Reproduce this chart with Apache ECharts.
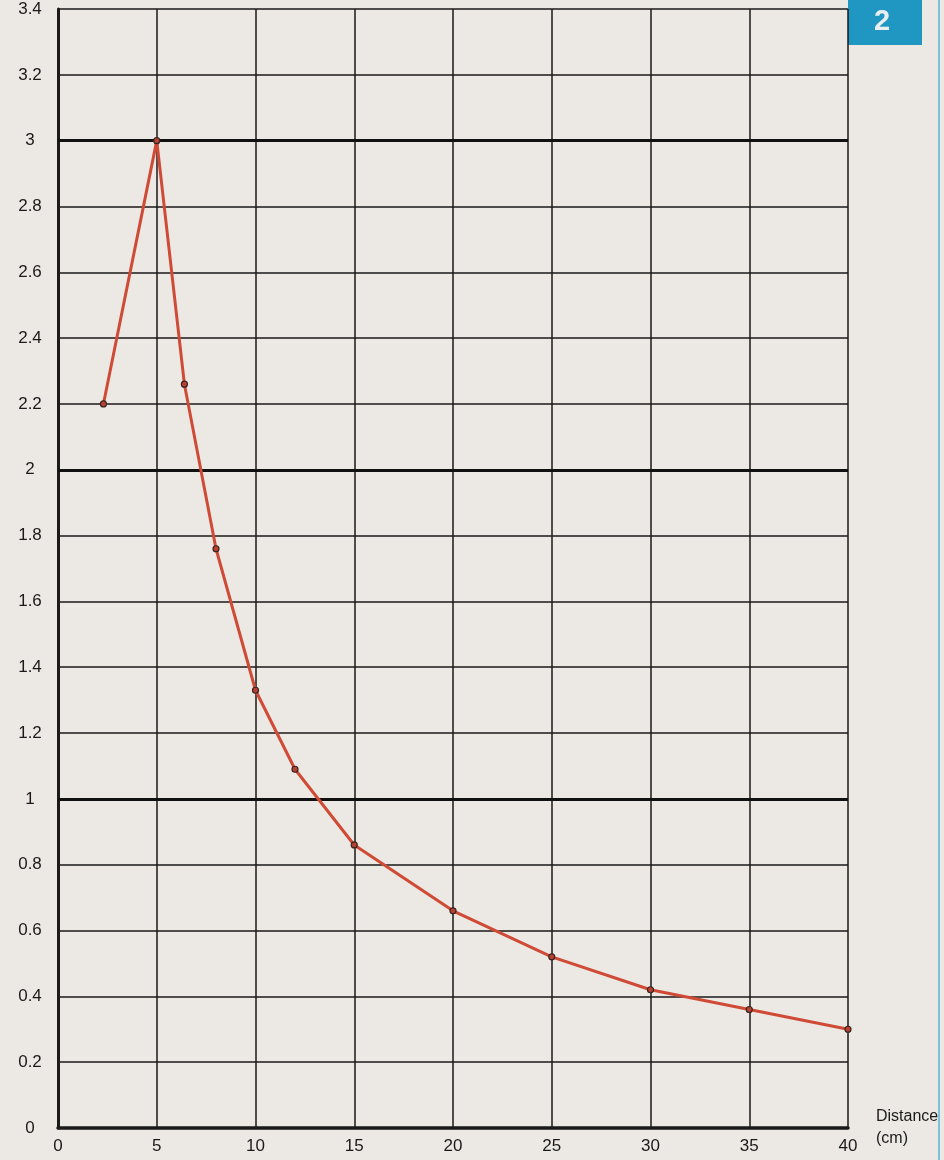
<!DOCTYPE html>
<html>
<head>
<meta charset="utf-8">
<script src="https://cdn.jsdelivr.net/npm/echarts@6/dist/echarts.min.js"></script>
<style>
  html, body { margin: 0; padding: 0; background: #ece8e4; }
  #chart { width: 944px; height: 1160px; }
</style>
</head>
<body>
<div id="chart"></div>
<script>
const distances = [2.3, 5, 6.4, 8, 10, 12, 15, 20, 25, 30, 35, 40]
const values = [2.2, 3.0, 2.26, 1.76, 1.33, 1.09, 0.86, 0.66, 0.52, 0.42, 0.36, 0.30]

const xTicks = ['0', '5', '10', '15', '20', '25', '30', '35', '40']
const yTicks = ['0', '0.2', '0.4', '0.6', '0.8', '1', '1.2', '1.4', '1.6', '1.8', '2',
  '2.2', '2.4', '2.6', '2.8', '3', '3.2', '3.4']
const boldLevels = [1, 2, 3]
const xName = 'Distance\n(cm)'
const badgeText = '2'

const ink = '#1a1a1a'
const font = "'Liberation Sans', Arial, sans-serif"

const chart = echarts.init(document.getElementById('chart'), null, { renderer: 'canvas' })

chart.setOption({
  backgroundColor: '#ece8e4',
  animation: false,
  grid: { left: 58, right: 96, top: 9, bottom: 31 },
  xAxis: {
    type: 'value', min: 0, max: 40, interval: 5,
    name: xName, nameLocation: 'end', nameGap: 28,
    nameTextStyle: {
      color: ink, fontSize: 16, fontFamily: font, align: 'left',
      lineHeight: 22, padding: [20, 0, 0, 0]
    },
    axisLine: { lineStyle: { color: ink, width: 3.5 } },
    axisTick: { show: false },
    axisLabel: {
      color: ink, fontSize: 17, fontFamily: font, margin: 10,
      formatter: (v, i) => xTicks[i]
    },
    splitLine: { show: true, lineStyle: { color: ink, width: 1.5 } }
  },
  yAxis: {
    type: 'value', min: 0, max: 3.4, interval: 0.2,
    axisLine: { show: true, lineStyle: { color: ink, width: 3 } },
    axisTick: { show: false },
    axisLabel: {
      color: ink, fontSize: 17, fontFamily: font, margin: 28, align: 'center',
      formatter: (v, i) => yTicks[i]
    },
    splitLine: { lineStyle: { color: ink, width: 1.5 } }
  },
  series: [
    {
      type: 'line',
      data: distances.map((d, i) => [d, values[i]]),
      symbol: 'circle', symbolSize: 6,
      z: 3,
      lineStyle: { color: '#cf4b36', width: 3 },
      itemStyle: { color: '#b84232', borderColor: '#3a2320', borderWidth: 1.2 },
      markLine: {
        silent: true, symbol: 'none', z: 1,
        label: { show: false },
        lineStyle: { color: '#111', width: 3, type: 'solid' },
        data: boldLevels.map(v => ({ yAxis: v }))
      }
    }
  ],
  graphic: [
    {
      type: 'rect', left: 848, top: 0,
      shape: { width: 74, height: 45 },
      style: { fill: '#1f97c2' }
    },
    {
      type: 'text', left: 874, top: 7,
      style: { text: badgeText, fill: '#e9eef0', font: "bold 29px 'Liberation Sans', Arial, sans-serif" }
    },
    {
      type: 'line',
      shape: { x1: 939, y1: 0, x2: 939, y2: 1160 },
      style: { stroke: '#7fc0dc', lineWidth: 2 }
    }
  ]
})
</script>
</body>
</html>
